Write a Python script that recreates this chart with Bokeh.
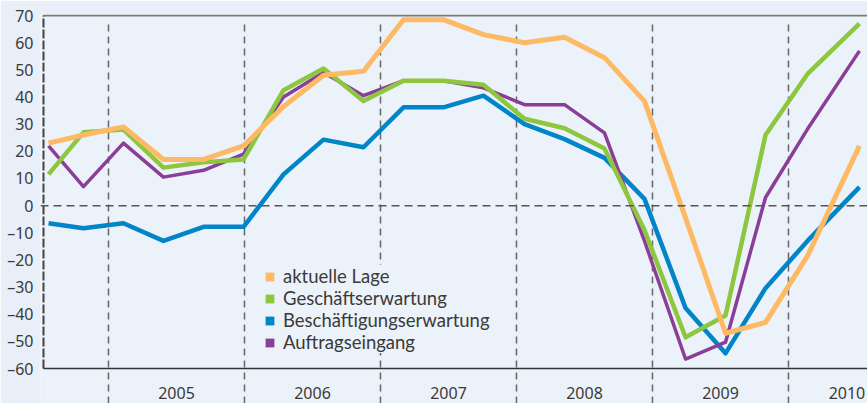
from bokeh.plotting import figure
from bokeh.models import (Span, Legend, LegendItem, FixedTicker, Range1d,
                          ColumnDataSource, LabelSet)
from bokeh.core.properties import value
from bokeh.embed import file_html
from bokeh.resources import INLINE

# ---- data ----
dates = [2004.559, 2004.816, 2005.110, 2005.404, 2005.699, 2005.993, 2006.287,
         2006.581, 2006.875, 2007.169, 2007.463, 2007.757, 2008.059, 2008.353,
         2008.647, 2008.941, 2009.243, 2009.537, 2009.831, 2010.140, 2010.522]
aktuelle_lage = [23, 26, 29, 17, 17, 22, 36.5, 48, 49.5, 68.5, 68.5, 63, 60, 62,
                 54.5, 38.5, -4.5, -47, -43, -18.5, 22]
geschaeftserwartung = [11.5, 27, 28, 14, 16, 17, 42.5, 50.5, 38.5, 46, 46, 44.5,
                       32, 28.5, 21, -9, -48.5, -40.5, 26, 48.5, 67]
beschaeftigungserwartung = [-6.5, -8.3, -6.5, -13, -7.8, -7.8, 11.5, 24.3, 21.5,
                            36.2, 36.2, 40.5, 30, 24.5, 17.6, 2.5, -37.7, -54.4,
                            -30.4, -13, 6.8]
auftragseingang = [22, 7, 23, 10.5, 13, 19, 40, 49, 40.5, 46, 46, 43.4, 37.2, 37.2,
                   26.8, -13, -56.5, -50.3, 3, 28.2, 57]

series_names = ["aktuelle Lage", "Geschäftserwartung", "Beschäftigungserwartung",
                "Auftragseingang"]
series_colors = ["#FDB964", "#8DC63F", "#0085C8", "#8A3E97"]
series_widths = [5, 4.5, 4.5, 3.5]

year_bounds = [2005, 2006, 2007, 2008, 2009, 2010]
year_labels = ["2005", "2006", "2007", "2008", "2009", "2010"]
year_label_x = [2005.5, 2006.5, 2007.5, 2008.5, 2009.5, 2010.43]

y_ticks = [70, 60, 50, 40, 30, 20, 10, 0, -10, -20, -30, -40, -50, -60]
y_tick_labels = ["70", "60", "50", "40", "30", "20", "10", "0", "–10", "–20",
                 "–30", "–40", "–50", "–60"]

# ---- layout constants ----
BG = "#ECF2F9"
BORDER_BG = "#E8EFF8"
FONT = "Noto Sans"
LEGEND_FONT = "Lato"
X_START, X_END = 2004.5, 2010.581
Y_BOTTOM, Y_TOP = -72.88, 70.4
AXIS_X = 2004.522
TEXT_COLOR = "#3a3a3a"

p = figure(width=867, height=403,
           x_range=Range1d(X_START, X_END), y_range=Range1d(Y_BOTTOM, Y_TOP),
           output_backend="svg", toolbar_location=None, x_axis_location=None,
           min_border_left=40, min_border_top=14, min_border_right=0,
           min_border_bottom=0,
           background_fill_color=BG, border_fill_color=BORDER_BG,
           outline_line_color=None)
p.grid.visible = False

yax = p.yaxis[0]
yax.ticker = FixedTicker(ticks=y_ticks)
yax.major_label_overrides = {t: l for t, l in zip(y_ticks, y_tick_labels)}
yax.axis_line_color = None
yax.major_tick_line_color = None
yax.minor_tick_line_color = None
yax.major_tick_out = 0
yax.major_tick_in = 0
yax.major_label_standoff = 7
yax.major_label_text_font = FONT
yax.major_label_text_font_size = "16px"
yax.major_label_text_color = TEXT_COLOR

# frame lines
p.segment(x0=[AXIS_X], y0=[70], x1=[X_END], y1=[70], line_color="#7a7a7a",
          line_width=2)
p.segment(x0=[AXIS_X], y0=[-60], x1=[X_END], y1=[-60], line_color="#333333",
          line_width=1.5)
p.segment(x0=[AXIS_X], y0=[-60], x1=[AXIS_X], y1=[70], line_color="#444444",
          line_width=2, line_dash="9 2")
p.add_layout(Span(location=0, dimension="width", line_color="#555555",
                  line_width=1.5, line_dash="8 5"))
p.segment(x0=year_bounds, y0=[Y_BOTTOM] * len(year_bounds), x1=year_bounds,
          y1=[68.3] * len(year_bounds), line_color="#666666", line_width=1.5,
          line_dash="7 5")

# year labels (annotation, not clipped to the frame)
lbl_src = ColumnDataSource(dict(x=year_label_x, y=[Y_BOTTOM] * len(year_labels),
                                text=year_labels))
p.add_layout(LabelSet(x="x", y="y", text="text", source=lbl_src,
                      text_align="center", text_baseline="bottom", y_offset=5,
                      text_font=value(FONT), text_font_size=value("16px"),
                      text_color=value(TEXT_COLOR)))

# data lines
src = ColumnDataSource(dict(x=dates, a=aktuelle_lage, g=geschaeftserwartung,
                            b=beschaeftigungserwartung, f=auftragseingang))
order = [("b", 2), ("f", 3), ("g", 1), ("a", 0)]
for col, i in order:
    p.line("x", col, source=src, line_color=series_colors[i],
           line_width=series_widths[i], line_join="round")

# legend with square swatches (renderers hold no visible mark)
nan = float("nan")
items = []
for name, color in zip(series_names, series_colors):
    r = p.quad(left=[nan], right=[nan], top=[nan], bottom=[nan],
               fill_color=color, line_color=None)
    items.append(LegendItem(label=name, renderers=[r]))
legend = Legend(items=items, location=(224, 50), margin=0, padding=15,
                spacing=0, glyph_width=11, glyph_height=11, label_height=21,
                label_standoff=8, label_text_font=LEGEND_FONT,
                label_text_font_size="18.5px", label_text_color=TEXT_COLOR,
                background_fill_color=BG, background_fill_alpha=1.0,
                border_line_color=None)
p.add_layout(legend)

open("out.html", "w").write(file_html(p, INLINE))
